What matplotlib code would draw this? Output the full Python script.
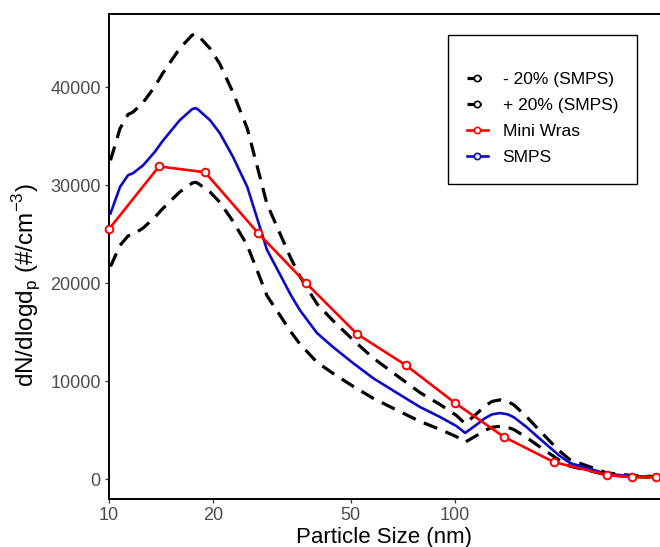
import matplotlib
matplotlib.use("Agg")
import matplotlib.pyplot as plt
from matplotlib.lines import Line2D

plt.rcParams['font.family'] = ['Liberation Sans', 'DejaVu Sans']

# SMPS size distribution (nm, #/cm3)
smps_size = [10.1, 10.76, 11.35, 11.73, 12.54, 13.58, 14.23, 15.0, 16.0, 17.4, 17.8, 18.1,
             19.6, 20.9, 22.8, 25.1, 27.3, 28.6, 31.5, 33.5, 35.6, 39.9, 44.4, 50.7, 57.9,
             68.0, 79.2, 90.5, 101, 107, 115, 122, 128, 135, 142, 148, 161, 172, 184.5,
             200, 215, 241, 275, 325, 384]
smps_conc = [27100, 29800, 31000, 31200, 32000, 33400, 34400, 35400, 36600, 37750, 37850, 37700,
             36600, 35300, 32900, 29800, 25700, 23400, 20600, 18800, 17240, 14900, 13470, 11840, 10310,
             8780, 7350, 6330, 5400, 4700, 5500, 6200, 6600, 6730, 6600, 6300, 5300, 4400, 3470,
             2400, 1630, 1120, 510, 300, 200]

# -20% / +20% bands of SMPS
lower_conc = [21680, 23840, 24800, 24960, 25600, 26720, 27520, 28320, 29280, 30200, 30280, 30160,
              29280, 28240, 26320, 23840, 20560, 18720, 16480, 15040, 13790, 11920, 10780, 9470, 8250,
              7020, 5880, 5060, 4320, 3760, 4400, 4960, 5280, 5380, 5280, 5040, 4240, 3520, 2780,
              1920, 1300, 900, 410, 240, 160]
upper_conc = [32520, 35760, 37200, 37440, 38400, 40080, 41280, 42480, 43920, 45300, 45420, 45240,
              43920, 42360, 39480, 35760, 30840, 28080, 24720, 22560, 20690, 17880, 16160, 14210, 12370,
              10540, 8820, 7600, 6480, 5640, 6600, 7440, 7920, 8080, 7920, 7560, 6360, 5280, 4160,
              2880, 1960, 1340, 610, 360, 240]

# Mini WRAS channels
wras_size = [10, 13.95, 18.95, 26.96, 37.1, 52.1, 72.2, 100, 138.6, 193, 275, 325, 381]
wras_conc = [25500, 31900, 31300, 25100, 20000, 14800, 11600, 7760, 4290, 1730, 410, 200, 200]

x_ticks = [10, 20, 50, 100]
y_ticks = [0, 10000, 20000, 30000, 40000]

red = '#FF0000'
blue = '#0A0AC8'
dash = (0, (4.5, 2.8))

fig = plt.figure(figsize=(6.6, 5.47), dpi=100)
ax = fig.add_axes([109 / 660, 48 / 547, 551 / 660, 485 / 547])

ax.plot(smps_size, lower_conc, color='black', lw=2.3, ls=dash, zorder=1)
ax.plot(smps_size, upper_conc, color='black', lw=2.3, ls=dash, zorder=1)
ax.plot(smps_size, smps_conc, color=blue, lw=1.9, zorder=2)
ax.plot(wras_size, wras_conc, color=red, lw=1.9, marker='o', ms=5.5, mfc='white',
        mec=red, mew=1.4, zorder=3, clip_on=False)

ax.set_xscale('log')
ax.set_xlim(10, 10 * 10 ** (551 / 346))
ax.set_ylim(-2040, 47450)
ax.set_xticks(x_ticks)
ax.set_xticklabels([str(t) for t in x_ticks])
ax.xaxis.set_minor_locator(matplotlib.ticker.NullLocator())
ax.set_yticks(y_ticks)
ax.set_yticklabels([str(t) for t in y_ticks])
ax.tick_params(axis='both', length=3, width=0.9, color='#333333', labelsize=13,
               labelcolor='#4D4D4D', pad=3)

for side in ['left', 'bottom', 'top']:
    ax.spines[side].set_linewidth(1.4)
    ax.spines[side].set_color('black')
ax.spines['right'].set_visible(False)

ax.set_xlabel('Particle Size (nm)', fontsize=16, labelpad=2)
ax.set_ylabel('dN/dlogd$_\\mathregular{p}$ (#/cm$^\\mathregular{-3}$)', fontsize=17.5)
ax.yaxis.set_label_coords(-0.12, 0.44)

handles = [
    Line2D([], [], color='black', lw=2.3, ls=dash, marker='o', ms=4.5, mfc='white', mec='black', mew=1.2),
    Line2D([], [], color='black', lw=2.3, ls=dash, marker='o', ms=4.5, mfc='white', mec='black', mew=1.2),
    Line2D([], [], color=red, lw=1.9, marker='o', ms=4.5, mfc='white', mec=red, mew=1.2),
    Line2D([], [], color=blue, lw=1.9, marker='o', ms=4.5, mfc='white', mec=blue, mew=1.2),
]
labels = ['- 20% (SMPS)', '+ 20% (SMPS)', 'Mini Wras', 'SMPS']
leg = ax.legend(handles, labels, loc='upper left', bbox_to_anchor=(0.615, 0.957),
                fontsize=12.5, title=' ', title_fontsize=6, frameon=True, fancybox=False,
                edgecolor='black', framealpha=1, handlelength=1.2, handletextpad=0.85,
                borderpad=1.1, labelspacing=0.62, borderaxespad=0, numpoints=1)
leg.get_frame().set_linewidth(1.0)

fig.savefig('out.png', dpi=100)
